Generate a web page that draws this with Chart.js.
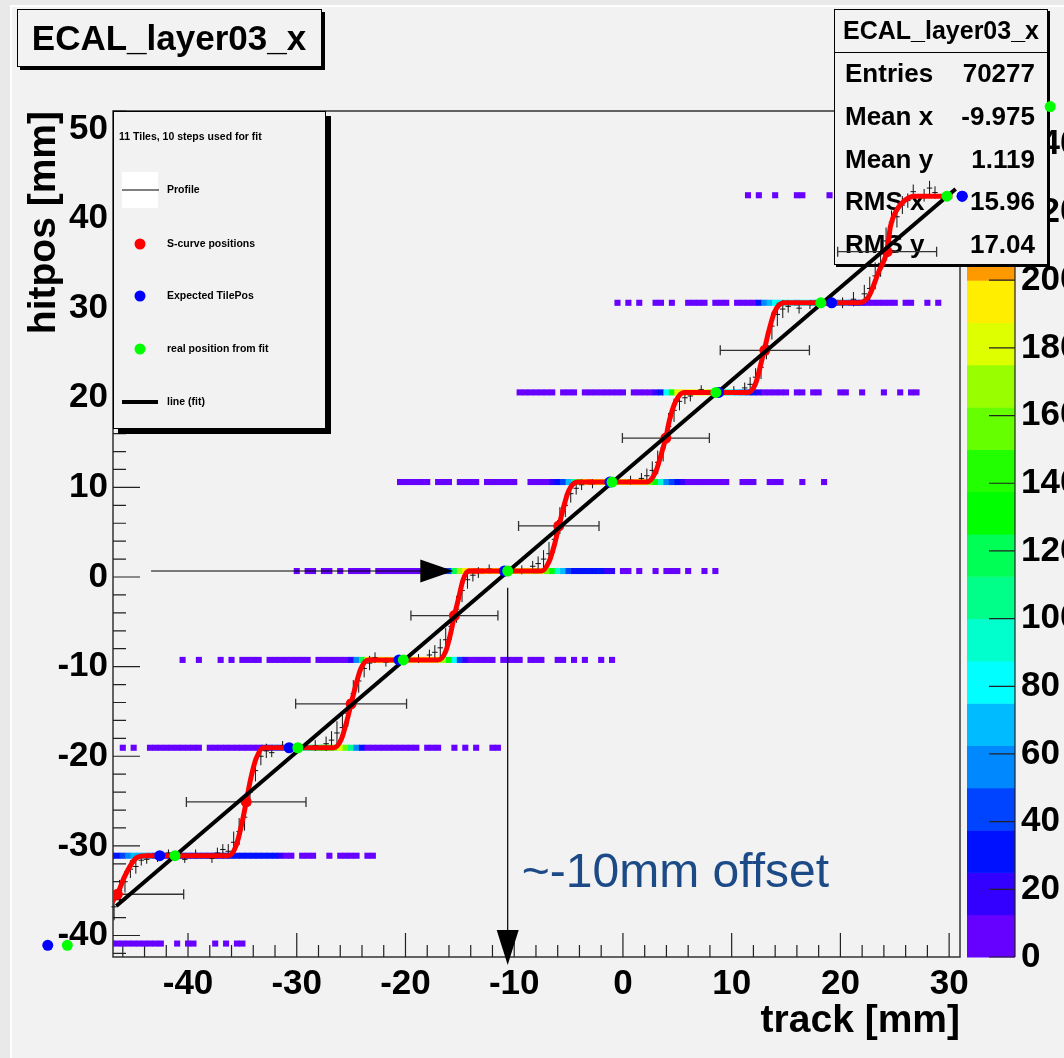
<!DOCTYPE html>
<html>
<head>
<meta charset="utf-8">
<title>ECAL_layer03_x</title>
<script src="https://cdn.jsdelivr.net/npm/chart.js@4.4.1/dist/chart.umd.min.js"></script>
<style>
  html, body { margin: 0; padding: 0; background: #f2f2f2; }
  #grafico { display: block; }
</style>
</head>
<body>
<canvas id="grafico" width="1064" height="1058"></canvas>
<script>
// ------------------------------
// Ejes
// ------------------------------
const xTicks = [-40, -30, -20, -10, 0, 10, 20, 30];
const yTicks = [-40, -30, -20, -10, 0, 10, 20, 30, 40, 50];
const zTicks = [0, 20, 40, 60, 80, 100, 120, 140, 160, 180, 200, 220, 240];

// ------------------------------
// Histograma 2D: una fila por tile (nivel de color por bin de 0.5 mm, '.' = vacio)
// ------------------------------
const binW = 0.5;
const tileY = [42.6, 30.6, 20.6, 10.6, 0.67, -9.25, -19.05, -31.1, -40.9];
const tileStart = [11.5, -0.5, -9.5, -20.5, -30, -40.5, -46, -47, -47];
const tileBins = [
  "0.0..0...00....0.0.00000123579bccba97531",
  "0.0.0..00.0..0000.000.0000" + "24566665665432344321" + "000000" + ".00..0.0",
  "0000000.000.00000000.0000" + "126aeffefedca8654321" + "00000.00.00...00..0...0..0.00",
  "000000.000.0000.000000..0000" + "12358cfgffeeeeeffeca74321" + "00000000..000..000...0...0",
  "0.00.00.0.0000.00000000000" + "1139dfghgfffeeeeeedeca75322222211" + ".00.0..0.000.0..0.0",
  "0..0...0.0.0" + "000.00000000.000000" + "149egffeeeeeefffeda631" + "00000.0000.000..00.0.0..0.0",
  "0.0..0000000000.0000000000" + "12334566789abcec842" + "0000000000.000..0.0.0..00",
  "223455543" + "222222222222222222222" + "2100" + ".000..0.0000.00",
  "0000000000..0.00...0.0.00"
];
const zStep = 12.5;
const paleta = ["#6600ff", "#3300ff", "#0011ff", "#0044ff", "#0088ff", "#00bbff", "#00ffff",
  "#00ffcc", "#00ff88", "#00ff55", "#00ff00", "#22ff00", "#66ff00", "#99ff00", "#ddff00",
  "#ffee00", "#ff9900", "#ff6600", "#ff3300", "#ff0000"];

// ------------------------------
// Ajuste S-curve
// ------------------------------
const curvaX = [-47.0, -46.5, -45.9, -45.2, -44.7, -43.8,
  -36.25, -35.55, -35.05, -34.65, -34.25, -33.75, -33.05,
  -26.6, -25.9, -25.4, -25.0, -24.6, -24.1, -23.4,
  -17.0, -16.3, -15.85, -15.5, -15.1, -14.7, -14.2,
  -7.5, -6.8, -6.3, -5.9, -5.5, -5.0, -4.2,
  2.2, 3.0, 3.5, 3.95, 4.3, 4.85, 5.6,
  11.5, 12.2, 12.65, 13.05, 13.45, 13.95, 14.8,
  21.7, 22.6, 23.5, 24.3, 24.6, 25.2, 26.0, 26.8, 30.3];
const curvaY = [-36.3, -35.4, -33.6, -32.0, -31.3, -31.1,
  -31.1, -29.9, -27.5, -25.1, -22.6, -20.3, -19.05,
  -19.05, -18.1, -16.1, -14.15, -12.2, -10.2, -9.25,
  -9.25, -8.3, -6.3, -4.3, -2.3, -0.3, 0.67,
  0.67, 1.7, 3.6, 5.6, 7.6, 9.6, 10.6,
  10.6, 11.7, 13.6, 15.6, 17.6, 19.6, 20.6,
  20.6, 21.6, 23.6, 25.6, 27.6, 29.6, 30.6,
  30.6, 31.3, 34.0, 36.5, 39.1, 41.0, 42.1, 42.5, 42.5];

// posiciones de los escalones (con error en x)
const pasoX = [-46.5, -34.65, -25.0, -15.5, -5.9, 3.95, 13.05, 24.3];
const pasoY = [-35.4, -25.1, -14.15, -4.3, 5.7, 15.5, 25.3, 36.3];
const pasoErrX = [6.1, 5.5, 5.1, 4.0, 3.7, 4.0, 4.1, 4.55];

// posiciones esperadas de los tiles
const esperX = [-52.9, -42.6, -30.7, -20.6, -10.9, -1.2, 8.8, 19.2, 31.2];
const esperY = [-41.1, -31.1, -19.05, -9.25, 0.67, 10.6, 20.6, 30.6, 42.5];

// posiciones reales del ajuste
const realX = [-51.1, -41.2, -29.9, -20.2, -10.6, -1.0, 8.55, 18.2, 29.8, 39.3];
const realY = [-41.1, -31.1, -19.05, -9.25, 0.67, 10.6, 20.6, 30.6, 42.5, 52.5];

// recta del ajuste
const rectaX = [-46.6, 30.6];
const rectaY = [-36.7, 43.3];

// Profile (x, y, error y)
const perfilX = [-46.8, -46.3, -45.8, -45.3, -44.8, -44.3, -43.8, -42.8, -41.8, -40.3, -39.3,
  -37.8, -37.3, -36.8, -36.3, -35.8, -35.3, -34.8, -34.3, -33.8, -33.3, -32.8, -32.3, -31.3,
  -28.3, -27.3, -26.8, -26.3, -25.8, -25.3, -24.8, -24.3, -23.8, -23.3, -22.8, -21.8,
  -18.8, -17.8, -17.3, -16.8, -16.3, -15.8, -15.3, -14.8, -14.3, -13.8, -13.3, -12.3,
  -9.3, -8.3, -7.8, -7.3, -6.8, -6.3, -5.8, -5.3, -4.8, -4.3, -3.8, -2.8,
  0.7, 1.7, 2.2, 2.7, 3.2, 3.7, 4.2, 4.7, 5.2, 5.7, 6.2, 7.2,
  10.2, 11.2, 11.7, 12.2, 12.7, 13.2, 13.7, 14.2, 14.7, 15.2, 16.2, 17.2,
  19.2, 20.2, 21.2, 22.2, 22.7, 23.2, 23.7, 24.2, 24.7, 25.2, 25.7, 26.2, 26.7, 27.7, 28.2, 28.7];
const perfilY = [-36.8, -35.0, -34.0, -32.6, -32.3, -31.6, -31.5, -31.4, -30.8, -31.5, -30.9,
  -31.4, -30.8, -30.4, -30.6, -29.6, -28.4, -26.8, -24.0, -21.6, -20.0, -19.4, -19.6, -18.8,
  -18.8, -18.6, -18.2, -17.4, -16.8, -15.2, -13.0, -11.6, -10.2, -9.6, -9.0, -9.5,
  -9.1, -8.7, -8.4, -7.9, -7.0, -5.5, -3.6, -1.5, -0.3, 0.2, 0.5, 0.9,
  0.8, 1.2, 1.5, 2.0, 2.6, 4.2, 6.3, 8.0, 9.3, 9.9, 10.3, 10.4,
  10.8, 11.0, 11.3, 11.9, 12.8, 14.4, 16.8, 18.6, 19.6, 20.0, 20.2, 20.9,
  20.8, 21.1, 21.5, 22.3, 23.4, 25.8, 28.0, 29.3, 29.9, 30.2, 30.0, 30.4,
  30.9, 30.6, 31.0, 31.6, 32.2, 33.6, 35.0, 37.5, 39.6, 40.2, 41.5, 42.0, 43.0, 42.6, 43.4, 42.9];
const perfilErr = [1.5, 1.2, 1.2, 1.0, 0.8, 0.6, 0.5, 0.4, 0.4, 0.4, 0.5,
  0.5, 0.6, 0.6, 0.8, 1.2, 1.5, 1.5, 1.5, 1.2, 1.0, 0.8, 0.5, 0.5,
  0.6, 0.8, 1.0, 1.3, 1.5, 1.5, 1.5, 1.3, 1.0, 0.8, 0.6, 0.5,
  0.5, 0.6, 0.8, 1.0, 1.3, 1.5, 1.5, 1.3, 1.0, 0.7, 0.6, 0.5,
  0.5, 0.6, 0.8, 1.0, 1.3, 1.5, 1.5, 1.3, 1.0, 0.7, 0.6, 0.5,
  0.5, 0.6, 0.8, 1.0, 1.3, 1.5, 1.5, 1.3, 1.0, 0.7, 0.6, 0.5,
  0.5, 0.6, 0.8, 1.0, 1.3, 1.5, 1.5, 1.3, 1.0, 0.7, 0.6, 0.5,
  0.5, 0.6, 0.8, 1.0, 1.3, 1.5, 1.5, 1.5, 1.3, 1.2, 1.0, 0.8, 0.8, 0.7, 0.8, 0.7];

// caja de estadisticas
const statNombres = ["Entries", "Mean x", "Mean y", "RMS x", "RMS y"];
const statValores = ["70277", "-9.975", "1.119", "15.96", "17.04"];

// ------------------------------
// Construccion de datasets
// ------------------------------
const celdas = [];
tileY.forEach((y, t) => {
  const fila = tileBins[t];
  for (let i = 0; i < fila.length; i++) {
    if (fila[i] === '.') continue;
    const nivel = parseInt(fila[i], 36);
    celdas.push({ x: tileStart[t] + i * binW, y: y, z: nivel * zStep + zStep / 2 });
  }
});
const pares = (xs, ys) => xs.map((x, i) => ({ x: x, y: ys[i] }));

const FUENTE = "'Liberation Sans', Arial, Helvetica, sans-serif";

function caja(ctx, x0, y0, x1, y1, sombra) {
  ctx.fillStyle = '#000';
  ctx.fillRect(x0 + sombra, y0 + sombra, x1 - x0, y1 - y0);
  ctx.fillStyle = '#f2f2f2';
  ctx.fillRect(x0, y0, x1 - x0, y1 - y0);
  ctx.strokeStyle = '#000';
  ctx.lineWidth = 1;
  ctx.strokeRect(x0 + 0.5, y0 + 0.5, x1 - x0 - 1, y1 - y0 - 1);
}

function punto(ctx, x, y, color) {
  ctx.fillStyle = color;
  ctx.beginPath();
  ctx.arc(x, y, 5.5, 0, Math.PI * 2);
  ctx.fill();
}

const rootPlugin = {
  id: 'root',
  beforeDraw(chart) {
    const ctx = chart.ctx;
    ctx.save();
    ctx.fillStyle = '#f2f2f2';
    ctx.fillRect(0, 0, chart.width, chart.height);
    ctx.fillStyle = '#e9e9e9';
    ctx.fillRect(0, 0, 10, chart.height);
    ctx.fillRect(0, 0, chart.width, 5);
    ctx.fillStyle = '#ffffff';
    ctx.fillRect(10, 5, 2, chart.height);
    ctx.fillRect(10, 5, chart.width, 2);
    ctx.restore();
  },
  beforeDatasetsDraw(chart) {
    const { ctx, chartArea: a, scales } = chart;
    const sx = scales.x, sy = scales.y, sz = scales.z;
    ctx.save();
    // marco
    ctx.strokeStyle = '#333';
    ctx.lineWidth = 1.5;
    ctx.strokeRect(a.left, a.top, a.right - a.left, a.bottom - a.top);
    // ticks hacia dentro
    ctx.lineWidth = 1.2;
    ctx.strokeStyle = '#222';
    ctx.beginPath();
    for (let v = -46; v <= 30; v += 2) {
      const px = sx.getPixelForValue(v);
      const largo = v % 10 === 0 ? 24 : 12;
      ctx.moveTo(px, a.bottom);
      ctx.lineTo(px, a.bottom - largo);
    }
    for (let v = -42; v <= 52; v += 2) {
      const py = sy.getPixelForValue(v);
      const largo = v % 10 === 0 ? 27 : 13;
      ctx.moveTo(a.left, py);
      ctx.lineTo(a.left + largo, py);
    }
    ctx.stroke();
    // barra de color
    const bx0 = 967, bx1 = 1015;
    paleta.forEach((c, i) => {
      const y0 = sz.getPixelForValue(i * zStep);
      const y1 = sz.getPixelForValue((i + 1) * zStep);
      ctx.fillStyle = c;
      ctx.fillRect(bx0, y1, bx1 - bx0, y0 - y1 + 0.5);
    });
    ctx.strokeStyle = '#222';
    ctx.beginPath();
    ctx.moveTo(bx1, sz.getPixelForValue(0));
    ctx.lineTo(bx1, sz.getPixelForValue(250));
    zTicks.forEach(v => {
      const py = sz.getPixelForValue(v);
      ctx.moveTo(bx1, py);
      ctx.lineTo(bx1 - 26, py);
    });
    ctx.stroke();
    ctx.restore();
  },
  beforeDatasetDraw(chart, args) {
    const ds = chart.data.datasets[args.index];
    const { ctx, chartArea: a, scales } = chart;
    const sx = scales.x, sy = scales.y;
    if (ds.label === 'S-curve positions') {
      ctx.save();
      ctx.beginPath();
      ctx.rect(a.left, a.top, a.right - a.left, a.bottom - a.top);
      ctx.clip();
      ctx.strokeStyle = '#333';
      ctx.lineWidth = 1.3;
      ctx.beginPath();
      pasoX.forEach((x, i) => {
        const py = sy.getPixelForValue(pasoY[i]);
        const p0 = sx.getPixelForValue(x - pasoErrX[i]);
        const p1 = sx.getPixelForValue(x + pasoErrX[i]);
        ctx.moveTo(p0, py); ctx.lineTo(p1, py);
        ctx.moveTo(p0, py - 5); ctx.lineTo(p0, py + 5);
        ctx.moveTo(p1, py - 5); ctx.lineTo(p1, py + 5);
      });
      ctx.stroke();
      ctx.restore();
    }
    if (ds.label === 'Profile') {
      ctx.save();
      ctx.strokeStyle = '#111';
      ctx.lineWidth = 1;
      ctx.beginPath();
      perfilX.forEach((x, i) => {
        const px = sx.getPixelForValue(x);
        const py = sy.getPixelForValue(perfilY[i]);
        const e0 = sy.getPixelForValue(perfilY[i] - perfilErr[i]);
        const e1 = sy.getPixelForValue(perfilY[i] + perfilErr[i]);
        ctx.moveTo(px, e0); ctx.lineTo(px, e1);
        ctx.moveTo(sx.getPixelForValue(x - binW / 2), py);
        ctx.lineTo(sx.getPixelForValue(x + binW / 2), py);
      });
      ctx.stroke();
      ctx.restore();
    }
  },
  afterDatasetDraw(chart, args) {
    const ds = chart.data.datasets[args.index];
    const ctx = chart.ctx;
    const a = chart.chartArea;
    // marcadores que caen fuera del marco (ROOT no los recorta)
    if (ds.clip === false) {
      ctx.save();
      args.meta.data.forEach(p => {
        if (p.x < a.left || p.x > a.right || p.y < a.top || p.y > a.bottom) {
          punto(ctx, p.x, p.y, ds.pointBackgroundColor);
        }
      });
      ctx.restore();
    }
    if (ds.label !== 'hist') return;
    ctx.save();
    // titulo
    caja(ctx, 17, 9, 322, 67, 3);
    ctx.fillStyle = '#000';
    ctx.font = 'bold 35px ' + FUENTE;
    ctx.textAlign = 'center';
    ctx.textBaseline = 'middle';
    ctx.fillText('ECAL_layer03_x', 169, 40);
    // estadisticas
    caja(ctx, 834, 9, 1048, 265, 2);
    ctx.strokeStyle = '#000';
    ctx.lineWidth = 1;
    ctx.beginPath();
    ctx.moveTo(834, 52.5); ctx.lineTo(1048, 52.5);
    ctx.stroke();
    ctx.fillStyle = '#000';
    ctx.font = 'bold 25px ' + FUENTE;
    ctx.fillText('ECAL_layer03_x', 941, 32);
    ctx.font = 'bold 26px ' + FUENTE;
    statNombres.forEach((n, i) => {
      const y = 75 + i * 42.7;
      ctx.textAlign = 'left';
      ctx.fillText(n, 845, y);
      ctx.textAlign = 'right';
      ctx.fillText(statValores[i], 1035, y);
    });
    // leyenda
    caja(ctx, 113, 111, 326, 429, 5);
    ctx.fillStyle = '#000';
    ctx.textAlign = 'left';
    ctx.font = 'bold 10.5px ' + FUENTE;
    ctx.fillText('11 Tiles, 10 steps used for fit', 119, 137);
    ctx.fillStyle = '#ffffff';
    ctx.fillRect(122, 172, 36, 36);
    ctx.strokeStyle = '#000';
    ctx.lineWidth = 1;
    ctx.beginPath();
    ctx.moveTo(122, 190); ctx.lineTo(159, 190);
    ctx.stroke();
    punto(ctx, 140, 244, '#ff0000');
    punto(ctx, 140, 296, '#0000ff');
    punto(ctx, 140, 349, '#00ff00');
    ctx.lineWidth = 4;
    ctx.beginPath();
    ctx.moveTo(122, 402); ctx.lineTo(158, 402);
    ctx.stroke();
    ctx.fillStyle = '#000';
    ctx.fillText('Profile', 167, 190);
    ctx.fillText('S-curve positions', 167, 244);
    ctx.fillText('Expected TilePos', 167, 296);
    ctx.fillText('real position from fit', 167, 349);
    ctx.fillText('line (fit)', 167, 402);
    ctx.restore();
  },
  afterDatasetsDraw(chart) {
    const { ctx, scales } = chart;
    const sx = scales.x, sy = scales.y;
    ctx.save();
    ctx.strokeStyle = '#000';
    ctx.fillStyle = '#000';
    ctx.lineWidth = 1.2;
    // flecha horizontal
    const hy = sy.getPixelForValue(0.67);
    const hx0 = sx.getPixelForValue(-43.4);
    const hx1 = sx.getPixelForValue(-15.6);
    ctx.beginPath();
    ctx.moveTo(hx0, hy); ctx.lineTo(hx1 - 30, hy);
    ctx.stroke();
    ctx.beginPath();
    ctx.moveTo(hx1, hy); ctx.lineTo(hx1 - 33, hy - 11.5); ctx.lineTo(hx1 - 33, hy + 11.5);
    ctx.closePath(); ctx.fill();
    // flecha vertical
    const vx = sx.getPixelForValue(-10.6);
    const vy0 = sy.getPixelForValue(-1.2);
    const vy1 = sy.getPixelForValue(-43.3);
    ctx.beginPath();
    ctx.moveTo(vx, vy0); ctx.lineTo(vx, vy1 - 30);
    ctx.stroke();
    ctx.beginPath();
    ctx.moveTo(vx, vy1); ctx.lineTo(vx - 11, vy1 - 35); ctx.lineTo(vx + 11, vy1 - 35);
    ctx.closePath(); ctx.fill();
    // texto
    ctx.fillStyle = '#1c4a86';
    ctx.font = '48px ' + FUENTE;
    ctx.textAlign = 'left';
    ctx.textBaseline = 'alphabetic';
    ctx.fillText('~-10mm offset', sx.getPixelForValue(-9.3), sy.getPixelForValue(-34.6));
    ctx.restore();
  }
};

const tickFont = { family: FUENTE, size: 35, weight: 'bold' };
const titleFont = { family: FUENTE, size: 39, weight: 'bold', lineHeight: 1.2 };

new Chart(document.getElementById('grafico'), {
  type: 'scatter',
  data: {
    datasets: [
      {
        label: 'hist',
        data: celdas,
        pointStyle: 'rect',
        pointRadius: 4.3,
        pointBorderWidth: 0,
        pointBackgroundColor: c => paleta[Math.floor(c.raw.z / zStep)],
        order: 10
      },
      {
        label: 'Profile',
        data: pares(perfilX, perfilY),
        pointRadius: 0,
        order: 8
      },
      {
        label: 'S-curve fit',
        data: pares(curvaX, curvaY),
        showLine: true,
        borderColor: '#ff0000',
        borderWidth: 5,
        cubicInterpolationMode: 'monotone',
        pointRadius: 0,
        order: 7
      },
      {
        label: 'S-curve positions',
        data: pares(pasoX, pasoY),
        pointRadius: 5.5,
        pointBorderWidth: 0,
        pointBackgroundColor: '#ff0000',
        order: 6
      },
      {
        label: 'line (fit)',
        data: pares(rectaX, rectaY),
        showLine: true,
        borderColor: '#000',
        borderWidth: 4,
        pointRadius: 0,
        order: 5
      },
      {
        label: 'Expected TilePos',
        data: pares(esperX, esperY),
        pointRadius: 5.5,
        pointBorderWidth: 0,
        pointBackgroundColor: '#0000ff',
        clip: false,
        order: 4
      },
      {
        label: 'real position from fit',
        data: pares(realX, realY),
        pointRadius: 5.5,
        pointBorderWidth: 0,
        pointBackgroundColor: '#00ff00',
        clip: false,
        order: 3
      }
    ]
  },
  options: {
    responsive: false,
    animation: false,
    devicePixelRatio: 1,
    events: [],
    layout: { padding: { top: 111, left: 0, right: 0, bottom: 0 } },
    plugins: { legend: { display: false }, tooltip: { enabled: false } },
    scales: {
      x: {
        type: 'linear', position: 'bottom', min: -46.9, max: 31,
        grid: { display: false, drawTicks: false },
        border: { display: false },
        afterBuildTicks: s => { s.ticks = xTicks.map(v => ({ value: v })); },
        ticks: { font: tickFont, color: '#000', padding: 6, maxRotation: 0, autoSkip: false, callback: v => String(v) },
        title: { display: true, text: 'track [mm]', align: 'end', color: '#000', font: titleFont, padding: { top: 0, bottom: 13 } },
        afterFit: s => { s.height = 101; }
      },
      y: {
        type: 'linear', position: 'left', min: -42.4, max: 52,
        grid: { display: false, drawTicks: false },
        border: { display: false },
        afterBuildTicks: s => { s.ticks = yTicks.map(v => ({ value: v })); },
        ticks: { font: tickFont, color: '#000', padding: 5, autoSkip: false, callback: v => String(v) },
        title: { display: true, text: 'hitpos [mm]', align: 'end', color: '#000', font: titleFont, padding: { top: 21, bottom: 0 } },
        afterFit: s => { s.width = 113; }
      },
      z: {
        type: 'linear', position: 'right', min: 0, max: 250,
        grid: { display: false, drawTicks: false },
        border: { display: false },
        afterBuildTicks: s => { s.ticks = zTicks.map(v => ({ value: v })); },
        ticks: { font: { family: FUENTE, size: 35, weight: 'bold' }, color: '#000', padding: 61, autoSkip: false, callback: v => String(v) },
        afterFit: s => { s.width = 104; }
      }
    }
  },
  plugins: [rootPlugin]
});
</script>
</body>
</html>
